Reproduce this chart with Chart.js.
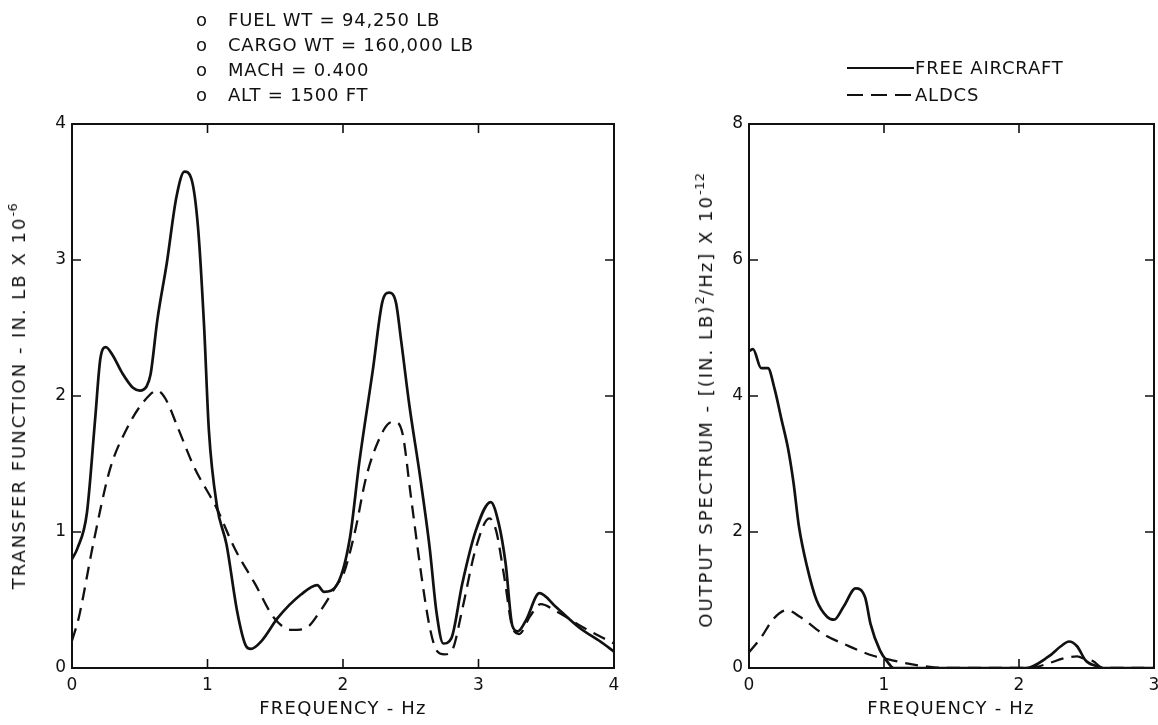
<!DOCTYPE html>
<html>
<head>
<meta charset="utf-8">
<script src="https://cdn.jsdelivr.net/npm/chart.js@4"></script>
<style>
  html, body { margin: 0; padding: 0; background: #fff; overflow: hidden; }
  body { width: 1158px; height: 725px; position: relative; font-family: "DejaVu Sans", sans-serif; color: #111; }
  canvas { position: absolute; top: 0; }
  #leftCanvas { left: 0; }
  #rightCanvas { left: 640px; }
  .txt { position: absolute; white-space: nowrap; font-size: 18px; letter-spacing: 0.8px; line-height: 1; }
  .center { transform: translate(-50%, -50%); letter-spacing: 1.2px; }
  .rot { transform: translate(-50%, -50%) rotate(-90deg); letter-spacing: 2px; }
  sup { font-size: 13px; vertical-align: 0; position: relative; top: -8px; letter-spacing: 0.5px; }
  .note { left: 196px; top: 11px; }
  .note div { height: 25px; }
  .note span.o { display: inline-block; width: 32px; }
</style>
</head>
<body>
<canvas id="leftCanvas" width="640" height="725"></canvas>
<canvas id="rightCanvas" width="530" height="725"></canvas>

<div class="txt note">
  <div><span class="o">o</span>FUEL WT = 94,250 LB</div>
  <div><span class="o">o</span>CARGO WT = 160,000 LB</div>
  <div><span class="o">o</span>MACH = 0.400</div>
  <div><span class="o">o</span>ALT = 1500 FT</div>
</div>

<div class="txt" style="left:915px; top:59px;">FREE AIRCRAFT</div>
<div class="txt" style="left:915px; top:86px;">ALDCS</div>

<div class="txt rot" style="left:19px; top:396px;">TRANSFER FUNCTION - IN. LB X 10<sup>-6</sup></div>
<div class="txt rot" style="left:706px; top:400px;">OUTPUT SPECTRUM - [(IN. LB)<sup>2</sup>/Hz] X 10<sup>-12</sup></div>
<div class="txt center" style="left:343px; top:708px;">FREQUENCY - Hz</div>
<div class="txt center" style="left:951px; top:708px;">FREQUENCY - Hz</div>

<script>
// left panel: transfer function
const freqFreeL = [0, 0.04, 0.11, 0.17, 0.21, 0.25, 0.30, 0.37, 0.45, 0.50, 0.55, 0.58, 0.63, 0.70, 0.77, 0.83, 0.88, 0.93, 0.975, 1.01, 1.07, 1.14, 1.22, 1.28, 1.32, 1.40, 1.52, 1.69, 1.81, 1.86, 1.96, 2.05, 2.12, 2.22, 2.29, 2.34, 2.39, 2.43, 2.49, 2.57, 2.64, 2.69, 2.74, 2.80, 2.88, 2.98, 3.09, 3.15, 3.20, 3.25, 3.29, 3.35, 3.45, 3.57, 3.74, 3.92, 4.0];
const valFreeL = [0.80, 0.88, 1.14, 1.82, 2.28, 2.36, 2.30, 2.17, 2.06, 2.04, 2.07, 2.16, 2.56, 2.98, 3.46, 3.65, 3.60, 3.24, 2.51, 1.75, 1.19, 0.91, 0.41, 0.17, 0.14, 0.20, 0.37, 0.54, 0.61, 0.56, 0.62, 0.95, 1.51, 2.19, 2.69, 2.76, 2.69, 2.40, 1.93, 1.40, 0.88, 0.41, 0.18, 0.22, 0.62, 1.01, 1.22, 1.06, 0.77, 0.31, 0.27, 0.35, 0.55, 0.45, 0.30, 0.18, 0.12];
const freqAldcsL = [0, 0.05, 0.16, 0.28, 0.41, 0.53, 0.63, 0.69, 0.78, 0.90, 1.07, 1.20, 1.35, 1.49, 1.62, 1.72, 1.84, 1.96, 2.0, 2.09, 2.17, 2.27, 2.34, 2.38, 2.44, 2.50, 2.58, 2.64, 2.69, 2.75, 2.81, 2.88, 2.98, 3.08, 3.13, 3.19, 3.25, 3.30, 3.38, 3.46, 3.57, 3.77, 4.0];
const valAldcsL = [0.20, 0.37, 0.93, 1.46, 1.77, 1.96, 2.04, 1.98, 1.77, 1.48, 1.17, 0.88, 0.62, 0.37, 0.28, 0.29, 0.43, 0.62, 0.68, 1.01, 1.40, 1.69, 1.80, 1.81, 1.72, 1.27, 0.67, 0.30, 0.13, 0.10, 0.14, 0.43, 0.88, 1.10, 1.01, 0.67, 0.30, 0.25, 0.38, 0.47, 0.42, 0.30, 0.18];

// right panel: output spectrum
const freqFreeR = [0, 0.03, 0.09, 0.14, 0.19, 0.24, 0.29, 0.33, 0.37, 0.43, 0.50, 0.58, 0.63, 0.70, 0.79, 0.86, 0.90, 0.97, 1.03, 1.07, 1.5, 2.05, 2.22, 2.31, 2.37, 2.43, 2.49, 2.52, 2.57, 2.60, 3.0];
const valFreeR = [4.66, 4.69, 4.41, 4.41, 4.10, 3.66, 3.22, 2.72, 2.08, 1.49, 1.00, 0.75, 0.71, 0.90, 1.17, 1.04, 0.65, 0.26, 0.08, 0, 0, 0, 0.17, 0.32, 0.39, 0.32, 0.12, 0.07, 0.03, 0, 0];
const freqAldcsR = [0, 0.09, 0.18, 0.28, 0.38, 0.55, 0.73, 0.92, 1.07, 1.22, 1.37, 1.45, 2.05, 2.12, 2.22, 2.35, 2.43, 2.50, 2.55, 2.60, 2.63, 3.0];
const valAldcsR = [0.23, 0.45, 0.72, 0.85, 0.75, 0.50, 0.33, 0.18, 0.11, 0.05, 0.01, 0, 0, 0.01, 0.07, 0.15, 0.17, 0.12, 0.10, 0.02, 0, 0];

const leftXTicks = [0, 1, 2, 3, 4];
const leftYTicks = [0, 1, 2, 3, 4];
const rightXTicks = [0, 1, 2, 3];
const rightYTicks = [0, 2, 4, 6, 8];

const INK = '#111';
const tickFont = { family: 'DejaVu Sans', size: 17 };

function pairs(xs, ys) {
  return xs.map((x, i) => ({ x: x, y: ys[i] }));
}

// frame around the plot with inward tick marks on all four sides
const framePlugin = {
  id: 'frame',
  afterDraw(chart) {
    const { ctx, chartArea: a, scales } = chart;
    ctx.save();
    ctx.strokeStyle = INK;
    ctx.lineWidth = 2;
    ctx.strokeRect(a.left, a.top, a.right - a.left, a.bottom - a.top);
    ctx.lineWidth = 1.6;
    const len = 9;
    scales.x.ticks.forEach(t => {
      if (t.value <= scales.x.min || t.value >= scales.x.max) return;
      const px = scales.x.getPixelForValue(t.value);
      ctx.beginPath();
      ctx.moveTo(px, a.bottom); ctx.lineTo(px, a.bottom - len);
      ctx.moveTo(px, a.top); ctx.lineTo(px, a.top + len);
      ctx.stroke();
    });
    scales.y.ticks.forEach(t => {
      if (t.value <= scales.y.min || t.value >= scales.y.max) return;
      const py = scales.y.getPixelForValue(t.value);
      ctx.beginPath();
      ctx.moveTo(a.left, py); ctx.lineTo(a.left + len, py);
      ctx.moveTo(a.right, py); ctx.lineTo(a.right - len, py);
      ctx.stroke();
    });
    ctx.restore();
  }
};

// legend samples for the right panel (text is html)
const legendLinePlugin = {
  id: 'legendLines',
  afterDraw(chart, args, opts) {
    if (!opts.show) return;
    const ctx = chart.ctx;
    ctx.save();
    ctx.strokeStyle = INK;
    ctx.lineWidth = 2;
    ctx.beginPath();
    ctx.moveTo(207, 68); ctx.lineTo(274, 68);
    ctx.stroke();
    ctx.setLineDash([16, 8]);
    ctx.beginPath();
    ctx.moveTo(207, 95); ctx.lineTo(274, 95);
    ctx.stroke();
    ctx.restore();
  }
};

function makeChart(id, cfg) {
  const ctx = document.getElementById(id).getContext('2d');
  return new Chart(ctx, {
    type: 'line',
    data: {
      datasets: [
        {
          label: 'FREE AIRCRAFT',
          data: pairs(cfg.freeX, cfg.freeY),
          borderColor: INK,
          borderWidth: 2.7,
          pointRadius: 0,
          cubicInterpolationMode: 'monotone',
          fill: false
        },
        {
          label: 'ALDCS',
          data: pairs(cfg.aldcsX, cfg.aldcsY),
          borderColor: INK,
          borderWidth: 2.3,
          borderDash: [13, 8],
          pointRadius: 0,
          cubicInterpolationMode: 'monotone',
          fill: false
        }
      ]
    },
    options: {
      responsive: false,
      animation: false,
      events: [],
      layout: { padding: { left: 0, right: cfg.padRight, top: 124, bottom: 0 } },
      plugins: {
        legend: { display: false },
        tooltip: { enabled: false },
        legendLines: { show: cfg.legend }
      },
      scales: {
        x: {
          type: 'linear',
          min: cfg.xTicks[0],
          max: cfg.xTicks[cfg.xTicks.length - 1],
          afterBuildTicks: s => { s.ticks = cfg.xTicks.map(v => ({ value: v })); },
          afterFit: s => { s.height = 57; },
          grid: { display: false, drawTicks: false },
          border: { display: false },
          ticks: { color: INK, font: tickFont, padding: 7, maxRotation: 0, callback: v => String(v) }
        },
        y: {
          min: cfg.yTicks[0],
          max: cfg.yTicks[cfg.yTicks.length - 1],
          afterBuildTicks: s => { s.ticks = cfg.yTicks.map(v => ({ value: v })); },
          afterFit: s => { s.width = cfg.yWidth; },
          grid: { display: false, drawTicks: false },
          border: { display: false },
          ticks: { color: INK, font: tickFont, padding: 6, callback: v => String(v) }
        }
      }
    },
    plugins: [framePlugin, legendLinePlugin]
  });
}

makeChart('leftCanvas', {
  freeX: freqFreeL, freeY: valFreeL,
  aldcsX: freqAldcsL, aldcsY: valAldcsL,
  xTicks: leftXTicks, yTicks: leftYTicks,
  yWidth: 72, padRight: 26, legend: false
});

makeChart('rightCanvas', {
  freeX: freqFreeR, freeY: valFreeR,
  aldcsX: freqAldcsR, aldcsY: valAldcsR,
  xTicks: rightXTicks, yTicks: rightYTicks,
  yWidth: 109, padRight: 16, legend: true
});
</script>
</body>
</html>
